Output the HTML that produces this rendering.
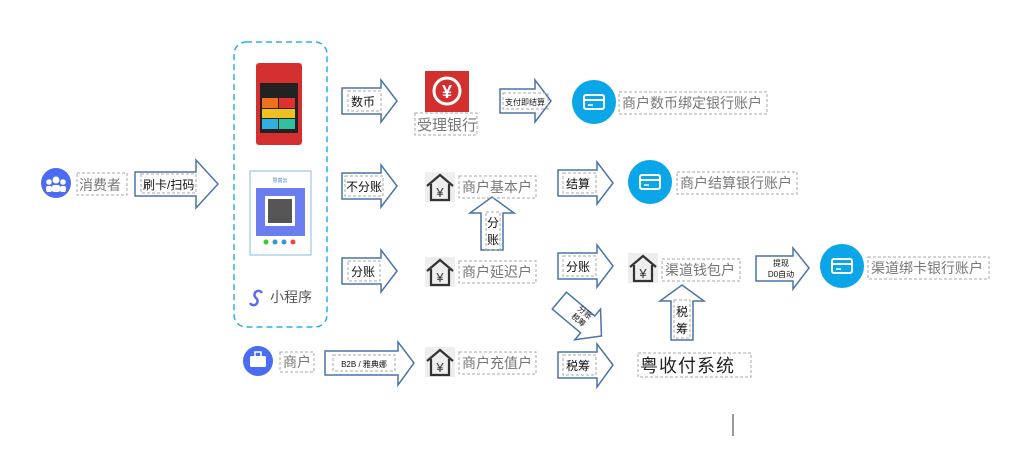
<!DOCTYPE html>
<html><head><meta charset="utf-8"><style>
body{margin:0;background:#fff}
svg text{font-family:"Liberation Sans","Noto Sans CJK SC",sans-serif}
</style></head><body>
<svg width="1024" height="449" viewBox="0 0 1024 449" xmlns="http://www.w3.org/2000/svg">
<defs>
<g id="house"><rect x="0" y="0" width="30" height="30" fill="#eee"/><path d="M2 14 L15 3 L28 14" fill="none" stroke="#333" stroke-width="2.2"/><path d="M6 12 V28 H24 V12" fill="none" stroke="#333" stroke-width="2.2"/><text x="15" y="25" font-size="13" text-anchor="middle" fill="#333">¥</text></g>
<g id="card"><rect x="-10" y="-7" width="20" height="14" rx="2" fill="none" stroke="#fff" stroke-width="2"/><line x1="-10" y1="-2" x2="10" y2="-2" stroke="#fff" stroke-width="2"/><line x1="-6" y1="3" x2="-1" y2="3" stroke="#fff" stroke-width="1.5"/></g>
</defs>
<g fill="#fff" stroke="#4a74a8" stroke-width="1.5">
<polygon points="135,172 196,172 196,160 218,184 196,208 196,196 135,196"/>
<polygon points="342,88 381,88 381,80 397,101 381,122 381,114 342,114"/>
<polygon points="500,89 535,89 535,80 551,101 535,122 535,113 500,113"/>
<polygon points="342,173 381,173 381,165 397,186 381,207 381,199 342,199"/>
<polygon points="558,170 597,170 597,162 613,183 597,204 597,196 558,196"/>
<polygon points="342,258 381,258 381,250 397,271 381,292 381,284 342,284"/>
<polygon points="558,253 597,253 597,245 613,266 597,287 597,279 558,279"/>
<polygon points="756,256 793,256 793,248 809,268 793,289 793,281 756,281"/>
<polygon points="325,351 398,351 398,342 414,363 398,385 398,375 325,375"/>
<polygon points="558,352 597,352 597,344 613,365 597,387 597,378 558,378"/>
<polygon points="481,250 481,213 470,213 492,197 514,213 503,213 503,250"/>
<polygon points="671,340 671,301 660,301 682,285 704,301 693,301 693,340"/>
<g transform="translate(580,318) rotate(40)"><polygon points="-27,-11 10,-11 10,-20 28,0 10,20 10,11 -27,11"/></g>
</g>
<g fill="none" stroke="#aaa" stroke-dasharray="3,2" stroke-width="1">
<rect x="77" y="173" width="50" height="22"/>
<rect x="141" y="174" width="55" height="19"/>
<rect x="348" y="91" width="33" height="20"/>
<rect x="415" y="113" width="62" height="22"/>
<rect x="503" y="93" width="45" height="16"/>
<rect x="619" y="92" width="148" height="22"/>
<rect x="345" y="176" width="38" height="20"/>
<rect x="459" y="176" width="77" height="22"/>
<rect x="563" y="173" width="33" height="20"/>
<rect x="677" y="172" width="120" height="22"/>
<rect x="348" y="261" width="32" height="20"/>
<rect x="459" y="261" width="77" height="22"/>
<rect x="486" y="212" width="14" height="38"/>
<rect x="563" y="256" width="33" height="20"/>
<rect x="662" y="259" width="78" height="22"/>
<rect x="868" y="257" width="121" height="22"/>
<rect x="674" y="300" width="16" height="38"/>
<rect x="280" y="352" width="34" height="20"/>
<rect x="333" y="355" width="62" height="16"/>
<rect x="459" y="352" width="77" height="22"/>
<rect x="563" y="355" width="33" height="20"/>
<rect x="638" y="353" width="113" height="24"/>
</g>
<rect x="234" y="42" width="93" height="285" rx="12" fill="none" stroke="#2ab0e8" stroke-width="1.5" stroke-dasharray="6,4"/>
<rect x="256" y="63" width="46" height="82" rx="3" fill="#d43030"/>
<rect x="260" y="83" width="38" height="50" fill="#222"/>
<rect x="262" y="98" width="16" height="10" fill="#f07020"/><rect x="279" y="98" width="16" height="10" fill="#e03030"/>
<rect x="262" y="109" width="33" height="9" fill="#f0c020"/>
<rect x="262" y="119" width="16" height="10" fill="#30b0e0"/><rect x="279" y="119" width="16" height="10" fill="#30c0a0"/>
<rect x="250" y="171" width="61" height="84" fill="#fff" stroke="#8ab8e0"/>
<rect x="256" y="188" width="49" height="48" fill="#6a7ef0"/>
<rect x="265" y="196" width="30" height="30" fill="#fff"/>
<rect x="268" y="199" width="24" height="24" fill="#555"/>
<circle cx="266" cy="242" r="2.5" fill="#3c3"/><circle cx="275" cy="242" r="2.5" fill="#39c"/><circle cx="284" cy="242" r="2.5" fill="#39c"/><circle cx="293" cy="242" r="2.5" fill="#e44"/>
<text x="280" y="182" font-size="5" fill="#48c" text-anchor="middle">慧富云</text>
<path d="M250 303 a4 4 0 1 0 6 -5 a4 4 0 1 1 6 -5" fill="none" stroke="#5a6ef0" stroke-width="2.5"/>
<text x="270" y="302" font-size="14" fill="#555">小程序</text>
<circle cx="56" cy="183" r="15" fill="#4a6cf0"/>
<circle cx="56" cy="180" r="3.5" fill="#fff"/><circle cx="49" cy="182" r="2.8" fill="#fff"/><circle cx="63" cy="182" r="2.8" fill="#fff"/>
<rect x="52" y="185" width="8" height="7" rx="2" fill="#fff"/><rect x="46" y="186" width="6" height="6" rx="2" fill="#fff"/><rect x="60" y="186" width="6" height="6" rx="2" fill="#fff"/>
<circle cx="258" cy="361" r="15" fill="#4a6cf0"/>
<rect x="250" y="356" width="16" height="11" rx="1.5" fill="#fff"/><rect x="255" y="352" width="6" height="5" fill="none" stroke="#fff" stroke-width="1.5"/>
<rect x="425" y="71" width="44" height="41" fill="#d42f2f"/>
<circle cx="447" cy="91" r="13" fill="none" stroke="#fff" stroke-width="3"/>
<text x="447" y="98" font-size="18" fill="#fff" text-anchor="middle" font-weight="bold">¥</text>
<circle cx="594" cy="102" r="22" fill="#0aa6e8"/><use href="#card" x="594" y="102"/>
<circle cx="650" cy="182" r="22" fill="#0aa6e8"/><use href="#card" x="650" y="182"/>
<circle cx="842" cy="266" r="22" fill="#0aa6e8"/><use href="#card" x="842" y="266"/>
<use href="#house" x="425" y="172"/>
<use href="#house" x="425" y="257"/>
<use href="#house" x="425" y="347"/>
<use href="#house" x="628" y="253"/>
<g font-size="14" fill="#777">
<text x="79" y="190">消费者</text>
<text x="417" y="130" font-size="15">受理银行</text>
<text x="622" y="108">商户数币绑定银行账户</text>
<text x="462" y="192">商户基本户</text>
<text x="680" y="188">商户结算银行账户</text>
<text x="462" y="277">商户延迟户</text>
<text x="665" y="275">渠道钱包户</text>
<text x="871" y="273">渠道绑卡银行账户</text>
<text x="283" y="367">商户</text>
<text x="462" y="368">商户充值户</text>
</g>
<g font-size="12" fill="#111">
<text x="143" y="189">刷卡/扫码</text>
<text x="351" y="106">数币</text>
<text x="346" y="191">不分账</text>
<text x="566" y="188">结算</text>
<text x="351" y="276">分账</text>
<text x="566" y="271">分账</text>
<text x="566" y="370">税筹</text>
<text x="487" y="227">分</text><text x="487" y="244">账</text>
<text x="676" y="316">税</text><text x="676" y="333">筹</text>
</g>
<text x="525" y="105" font-size="8" fill="#111" text-anchor="middle">支付即结算</text>
<text x="781" y="266" font-size="8" fill="#111" text-anchor="middle">提现</text>
<text x="781" y="277" font-size="8" fill="#111" text-anchor="middle">D0自动</text>
<text x="364" y="367" font-size="8" fill="#111" text-anchor="middle">B2B / 雅典娜</text>
<g transform="translate(582,316) rotate(40)" font-size="8" fill="#111" text-anchor="middle"><text x="0" y="-2">分账</text><text x="0" y="8">税筹</text></g>
<text x="640" y="372" font-size="18" fill="#222" letter-spacing="1">粤收付系统</text>
<line x1="733" y1="414" x2="733" y2="436" stroke="#333" stroke-width="1"/>
</svg>
</body></html>
